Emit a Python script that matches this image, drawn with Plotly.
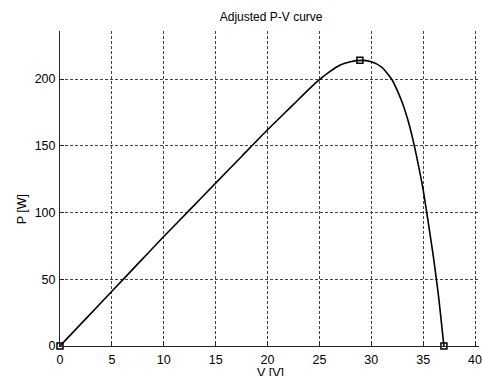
import plotly.graph_objects as go

# Data
V = [0, 2.5, 5, 7.5, 10, 12.5, 15, 17.5, 20, 22.5, 24, 25, 26, 27, 28, 29, 30, 31, 32,
     32.5, 33, 33.5, 34, 34.5, 35, 35.5, 36, 36.5, 37]
P = [0, 20.5, 41, 61.5, 82, 102, 122, 142, 162, 181, 192.5, 199.5, 205.5, 210.5, 213, 214, 213,
     209, 199.5, 191.5, 182, 170, 155, 137, 117, 92, 66, 36, 0]

# marked points: short circuit, maximum power point, open circuit
mark_V = [0, 28.9, 37]
mark_P = [0, 214, 0]

x_ticks = [0, 5, 10, 15, 20, 25, 30, 35, 40]
y_ticks = [0, 50, 100, 150, 200]

fig = go.Figure()
fig.add_trace(go.Scatter(x=V, y=P, mode="lines",
                         line=dict(color="black", width=1.6, shape="spline", smoothing=0.6),
                         showlegend=False, cliponaxis=False))
fig.add_trace(go.Scatter(x=mark_V, y=mark_P, mode="markers",
                         marker=dict(symbol="square-open", size=6, color="black",
                                     line=dict(width=1.5, color="black")),
                         showlegend=False, cliponaxis=False))

font = "Liberation Sans, Arial, sans-serif"
axis_common = dict(showgrid=True, gridcolor="#444444", gridwidth=1, griddash="3px,2px",
                   showline=True, linecolor="#222222", linewidth=1,
                   ticks="inside", ticklen=4, tickcolor="#222222",
                   zeroline=False, mirror=False, ticklabeloverflow="allow",
                   tickfont=dict(family=font, size=12.5, color="black"))

fig.update_xaxes(range=[0, 40.38], tickvals=x_ticks, ticktext=[str(t) for t in x_ticks],
                 ticklabelstandoff=2, **axis_common)
fig.update_yaxes(range=[0, 236], tickvals=y_ticks, ticktext=[str(t) for t in y_ticks],
                 ticklabelstandoff=1, **axis_common)

fig.update_layout(
    width=482, height=376,
    margin=dict(l=60, r=0, t=31, b=30),
    paper_bgcolor="white", plot_bgcolor="white",
    title=dict(text="Adjusted P-V curve", x=0.5625, xanchor="center", y=1 - 17 / 376,
               yanchor="middle", font=dict(family=font, size=12, color="black")),
    annotations=[
        dict(text="V [V]", xref="paper", yref="paper", x=(272 - 60) / 422,
             y=(346 - 373) / 315, showarrow=False, xanchor="center", yanchor="middle",
             font=dict(family=font, size=12.5, color="black")),
        dict(text="P [W]", xref="paper", yref="paper", x=(22 - 60) / 422,
             y=(346 - 209) / 315, showarrow=False, textangle=-90,
             xanchor="center", yanchor="middle",
             font=dict(family=font, size=12.5, color="black")),
    ],
)

fig.write_html("out.html", config={"displayModeBar": False},
               post_script="document.body.style.margin='0px';"
                           "document.body.style.overflow='hidden';")
